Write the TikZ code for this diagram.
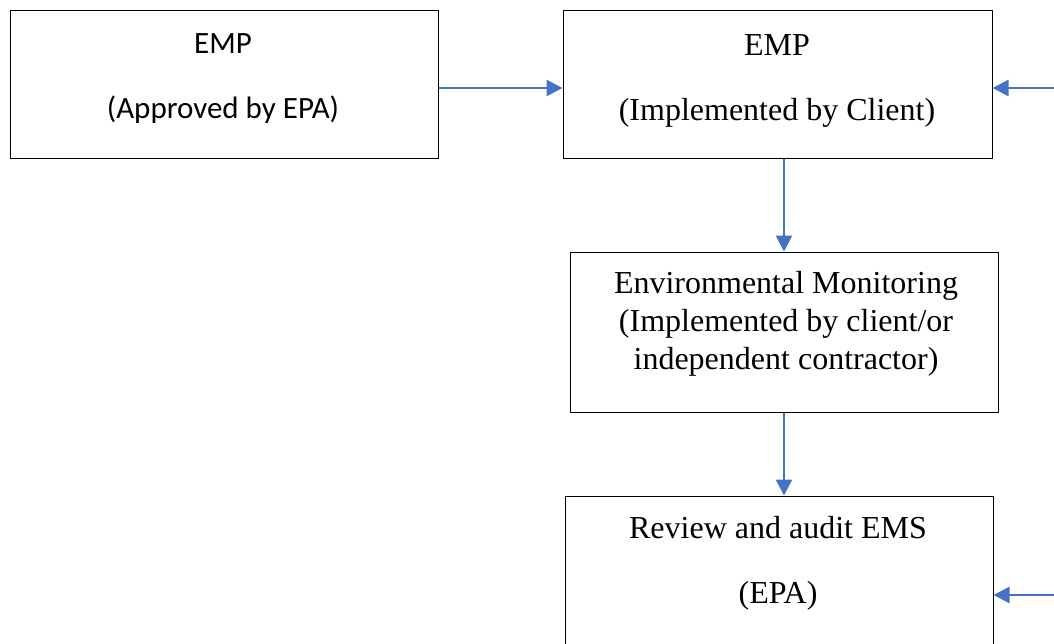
\documentclass[tikz,border=0pt]{standalone}
\usepackage{fontspec}
\setmainfont{Liberation Serif}
\newfontfamily\calibri{Carlito}
\usepackage{xcolor}
\usetikzlibrary{arrows.meta}
\definecolor{arblue}{RGB}{68,114,196}
\tikzset{
    BX/.style ={rectangle,minimum width = 428pt, inner sep=0pt, draw, line width=1pt},
    TS/.style ={align=center, inner sep=0pt, font=\calibri\fontsize{31}{65}\selectfont},
    TR/.style ={align=center, inner sep=0pt, font=\fontsize{32}{65}\selectfont},
    AR/.style ={-{Triangle[length=16pt,width=16pt]}, draw=arblue, fill=arblue, line width=2.5pt}
}
\begin{document}
\begin{tikzpicture}[x=1pt,y=-1pt]
        \useasboundingbox (0,0) rectangle (1054,643);
        \node[BX, minimum height=148pt](1) at (224,84) {};
        \node[BX, minimum width=429pt, minimum height=148pt](2) at (777.5,84) {};
        \node[BX, minimum height=160pt](3) at (784,332) {};
        \node[BX, minimum height=170pt](4) at (779,581) {};
        \node[TS](1t) at (223,78.5) {EMP\\(Approved by EPA)};
        \node[TR](2t) at (777,80.5) {EMP\\(Implemented by Client)};
        \node[TR, font=\fontsize{32}{38}\selectfont](3t) at (786,323.5) {Environmental Monitoring\\(Implemented by client/or\\independent contractor)};
        \node[TR](4t) at (778,563) {Review and audit EMS\\(EPA)};
        \coordinate (r1) at (1054,88);
        \coordinate (r2) at (1054,595);
        \draw[AR] ([yshift=-4pt]1.east) -- ([yshift=-4pt]2.west);
        \draw[AR] (r1) -- (r1 -| 2.east);
        \draw[AR] (2.south -| 3.north) -- (3.north);
        \draw[AR] (3.south) -- (3.south |- 4.north);
        \draw[AR] (r2) -- (r2 -| 4.east);
\end{tikzpicture}
\end{document}
